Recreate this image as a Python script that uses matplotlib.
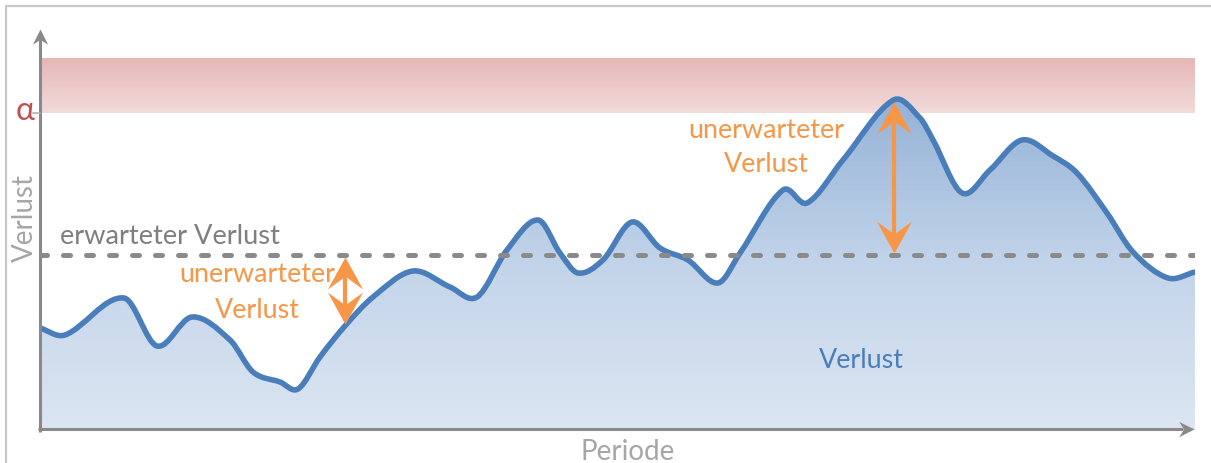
import numpy as np
import matplotlib
matplotlib.use("Agg")
import matplotlib.pyplot as plt
from matplotlib.path import Path
from matplotlib.patches import PathPatch, Rectangle
from matplotlib.colors import LinearSegmentedColormap

# ---------------- data ----------------
period = [0.0, 2.16, 7.27, 10.13, 13.16, 16.45, 18.44, 20.78, 22.34, 24.24,
          26.4, 28.83, 32.29, 35.5, 37.84, 40.43, 43.12, 45.02, 46.58, 48.74,
          51.26, 53.68, 56.1, 58.7, 60.61, 64.33, 66.41, 69.52, 73.9, 76.19,
          77.32, 79.83, 82.25, 85.02, 87.71, 89.78, 92.38, 94.63, 97.66, 100.0]
loss = [25.5, 23.75, 33.0, 21.0, 28.25, 22.5, 14.5, 12.0, 10.25, 18.25,
        26.0, 33.25, 39.75, 35.75, 33.25, 45.0, 52.5, 44.25, 39.25, 42.5,
        52.0, 45.5, 42.5, 36.75, 44.25, 60.0, 56.75, 67.5, 82.5, 78.0,
        72.5, 59.25, 65.0, 72.5, 68.5, 64.25, 54.25, 44.5, 38.0, 39.5]
expected_loss = 43.75
alpha_level = 79.25
band_top = 93.0
arrow_idx = [10, 28]   # positions where "unerwarteter Verlust" is marked

# ---------------- style ----------------
AX_GRAY = '#898989'
DASH_GRAY = '#8a8a8a'
BLUE = '#4a7ebb'
ORANGE = '#f79646'
RED = '#c0504d'
LGRAY = '#a6a6a6'
TGRAY = '#7f7f7f'
FONT = 'Lato'

def head(tipdir, half_w, notch):
    if tipdir == 'up':
        v = [(0, 0), (-half_w, -1), (0, -notch), (half_w, -1), (0, 0)]
    elif tipdir == 'down':
        v = [(0, 0), (-half_w, 1), (0, notch), (half_w, 1), (0, 0)]
    else:
        v = [(0, 0), (-1, half_w), (-notch, 0), (-1, -half_w), (0, 0)]
    return Path(v, [Path.MOVETO, Path.LINETO, Path.LINETO, Path.LINETO, Path.CLOSEPOLY])

W, H = 1211, 463
fig = plt.figure(figsize=(W / 100, H / 100), dpi=100)
fig.patch.set_facecolor('white')

# outer frame (cropped on right/bottom)
fig.patches.append(Rectangle((6 / W, -0.1), 1.2, 1 - 6 / H + 0.1,
                             transform=fig.transFigure, fill=False,
                             edgecolor='#c8c8c8', lw=1.6))

ax = fig.add_axes([40 / W, 33 / H, 1155 / W, 400 / H])
ax.set_xlim(0, 100)
ax.set_ylim(0, 100)
ax.axis('off')

# red band above alpha
red_cmap = LinearSegmentedColormap.from_list('r', ['#f2dadb', '#e6b7b7'])
ax.imshow(np.linspace(0, 1, 100).reshape(-1, 1), cmap=red_cmap, origin='lower',
          extent=[0, 100, alpha_level, band_top], aspect='auto', zorder=1)

# smooth curve: cubic Hermite segments drawn as Bezier curves
x = np.asarray(period, float)
y = np.asarray(loss, float)
n = len(x)
m = np.empty(n)
m[1:-1] = (y[2:] - y[:-2]) / (x[2:] - x[:-2])
m[0] = (y[1] - y[0]) / (x[1] - x[0])
m[-1] = (y[-1] - y[-2]) / (x[-1] - x[-2])
verts = [(x[0], y[0])]
codes = [Path.MOVETO]
for i in range(n - 1):
    h = x[i + 1] - x[i]
    verts += [(x[i] + h / 3, y[i] + m[i] * h / 3),
              (x[i + 1] - h / 3, y[i + 1] - m[i + 1] * h / 3),
              (x[i + 1], y[i + 1])]
    codes += [Path.CURVE4] * 3

fill_verts = verts + [(x[-1], 0), (x[0], 0), (x[0], y[0])]
fill_codes = codes + [Path.LINETO, Path.LINETO, Path.CLOSEPOLY]
fill_patch = PathPatch(Path(fill_verts, fill_codes), facecolor='none',
                       edgecolor='none')
ax.add_patch(fill_patch)
blue_cmap = LinearSegmentedColormap.from_list('b', ['#dce6f2', '#c3d4ea', '#95b3d7'])
img = ax.imshow(np.linspace(0, 1, 200).reshape(-1, 1), cmap=blue_cmap,
                origin='lower', extent=[0, 100, 0, max(loss)], aspect='auto',
                zorder=2)
img.set_clip_path(fill_patch)

line_patch = PathPatch(Path(verts, codes), facecolor='none', edgecolor=BLUE,
                       lw=4.0, capstyle='round', joinstyle='round', zorder=4)
ax.add_patch(line_patch)

# expected loss dashed line
ax.plot([period[0], period[-1]], [expected_loss, expected_loss], color=DASH_GRAY,
        lw=3.6, dashes=(1.4, 3.2), dash_capstyle='round', zorder=5)

# axes with arrows
ax.plot([0, 0], [-0.4, 98], color=AX_GRAY, lw=2.2, clip_on=False, zorder=6,
        solid_capstyle='butt')
ax.plot([0], [100.25], marker=head('up', 0.5, 0.68), ms=22, color=AX_GRAY, mew=0,
        clip_on=False, zorder=6)
ax.plot([-0.15, 99], [0.3, 0.3], color=AX_GRAY, lw=2.2, clip_on=False, zorder=6,
        solid_capstyle='butt')
ax.plot([99.9], [0.3], marker=head('right', 0.5, 0.68), ms=22, color=AX_GRAY,
        mew=0, clip_on=False, zorder=6)

# alpha tick
ax.plot([-0.6, 0], [alpha_level, alpha_level], color='#b0b0b0', lw=1.2,
        clip_on=False, zorder=6)

# unexpected loss arrows
for k in arrow_idx:
    xa = period[k]
    top = max(loss[k], expected_loss)
    bot = min(loss[k], expected_loss)
    ax.plot([xa, xa], [bot + 2, top - 2], color=ORANGE, lw=3.0, zorder=7,
            solid_capstyle='butt')
    ax.plot([xa], [top - 0.5], marker=head('up', 0.55, 0.6), ms=46, color=ORANGE,
            mew=0, zorder=7)
    ax.plot([xa], [bot + 0.5], marker=head('down', 0.55, 0.6), ms=46, color=ORANGE,
            mew=0, zorder=7)

# texts
ax.text(1.73, 48.5, 'erwarteter Verlust', color=TGRAY, fontsize=19.6,
        family=FONT, va='center', ha='left', zorder=8)
ax.text(18.8, 38.75, 'unerwarteter', color=ORANGE, fontsize=19.4, family=FONT,
        ha='center', va='center', zorder=8)
ax.text(18.8, 29.75, 'Verlust', color=ORANGE, fontsize=19.4, family=FONT,
        ha='center', va='center', zorder=8)
ax.text(62.9, 74.75, 'unerwarteter', color=ORANGE, fontsize=19.4, family=FONT,
        ha='center', va='center', zorder=8)
ax.text(62.9, 66.25, 'Verlust', color=ORANGE, fontsize=19.4, family=FONT,
        ha='center', va='center', zorder=8)
ax.text(71.1, 17.5, 'Verlust', color=BLUE, fontsize=19.4, family=FONT,
        ha='center', va='center', zorder=8)

fig.text(628 / W, 1 - 452 / H, 'Periode', color=LGRAY, fontsize=20,
         family=FONT, ha='center', va='center')
fig.text(25 / W, 1 - 218 / H, 'Verlust', color=LGRAY, fontsize=20,
         family=FONT, ha='center', va='center', rotation=90)
fig.text(25 / W, 1 - 111 / H, 'α', color=RED, fontsize=23, family=FONT,
         ha='center', va='center')

fig.savefig('out.png', dpi=100, facecolor='white')
